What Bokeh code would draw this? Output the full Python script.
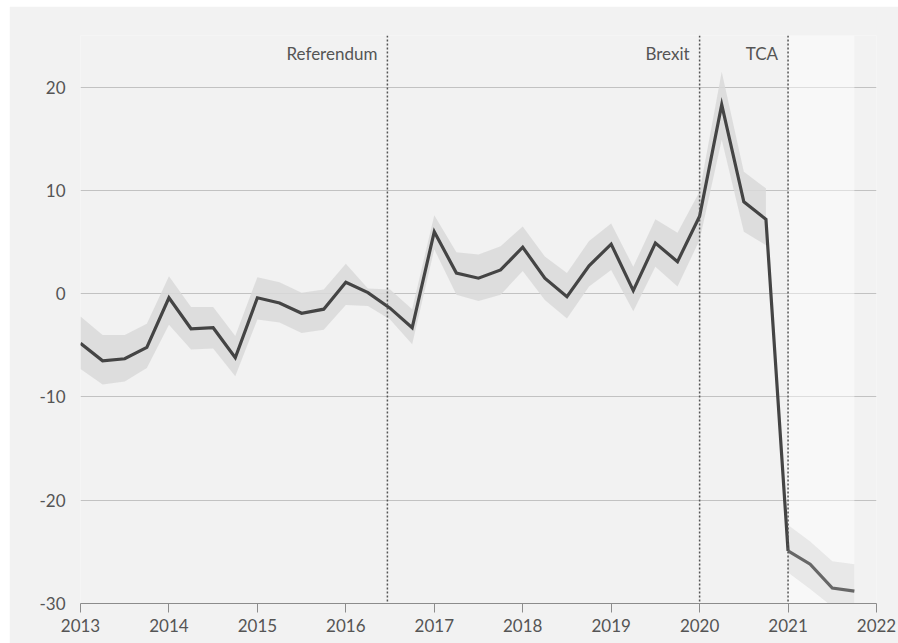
from bokeh.plotting import figure
from bokeh.models import FixedTicker, Span, BoxAnnotation, CustomJSTickFormatter
from bokeh.core.properties import value
from bokeh.embed import file_html
from bokeh.resources import INLINE

# ---- data ----
years = list(range(2013, 2022))
tick_years = list(range(2013, 2023))
y_ticks = [-30, -20, -10, 0, 10, 20]

# quarterly observation dates (Q1..Q4 of each year)
quarters = [y + q / 4 for y in years for q in range(4)]

central = [
    -4.8, -6.5, -6.3, -5.2,
    -0.4, -3.4, -3.3, -6.2,
    -0.4, -0.9, -1.9, -1.5,
    1.1, 0.1, -1.4, -3.3,
    6.0, 2.0, 1.5, 2.3,
    4.5, 1.5, -0.3, 2.7,
    4.8, 0.3, 4.9, 3.1,
    7.5, 18.3, 8.9, 7.2,
    -24.9, -26.2, -28.5, -28.8,
]
upper = [
    -2.2, -4.0, -4.0, -2.9,
    1.7, -1.3, -1.3, -4.1,
    1.6, 1.1, 0.1, 0.4,
    2.9, 0.5, 0.4, -1.5,
    7.6, 4.0, 3.8, 4.6,
    6.5, 3.6, 2.0, 5.1,
    6.8, 2.6, 7.2, 5.9,
    9.9, 21.5, 11.8, 10.2,
    -22.4, -24.0, -25.9, -26.2,
]
lower = [
    -7.3, -8.8, -8.5, -7.2,
    -3.0, -5.4, -5.3, -8.0,
    -2.5, -2.8, -3.8, -3.5,
    -1.1, -1.2, -2.5, -4.9,
    4.3, -0.1, -0.7, -0.1,
    2.2, -0.6, -2.4, 0.7,
    2.3, -1.7, 2.6, 0.7,
    5.2, 14.9, 6.0, 4.7,
    -27.0, -28.6, -30.3, -30.3,
]
n_hist = 32  # 2013Q1 .. 2020Q4 are outturns; 2021 is projection

event_x = [2016.47, 2020.0, 2021.0]
event_labels = ["Referendum", "Brexit", "TCA"]
forecast_start, forecast_end = 2021.0, 2021.75

# ---- styling ----
BG = "#f2f2f2"
FONT = "Lato"
TXT = "#555555"

p = figure(
    width=889, height=637,
    x_range=(2013, 2022), y_range=(-30, 25),
    output_backend="svg", toolbar_location=None,
    background_fill_color=BG, border_fill_color=BG,
    min_border_left=71, min_border_right=22,
    min_border_top=29, min_border_bottom=40,
)
p.margin = (6, 0, 0, 9)
p.outline_line_color = None

# forecast shading
p.add_layout(BoxAnnotation(left=forecast_start, right=forecast_end,
                           fill_color="white", fill_alpha=0.45,
                           line_color=None, level="underlay"))

# uncertainty bands
p.varea(x=quarters[:n_hist], y1=lower[:n_hist], y2=upper[:n_hist],
        fill_color="#d9d9d9", fill_alpha=0.85)
p.varea(x=quarters[n_hist:], y1=lower[n_hist:], y2=upper[n_hist:],
        fill_color="#e6e6e6", fill_alpha=0.9)

# event lines
for ex in event_x:
    p.add_layout(Span(location=ex, dimension="height", line_color="#555555",
                      line_width=1.5, line_dash="2 2"))

# central lines
p.line(quarters[:n_hist + 1], central[:n_hist + 1], line_color="#444444",
       line_width=3.2, line_join="miter")
p.line(quarters[n_hist:], central[n_hist:], line_color="#676767",
       line_width=3.2, line_join="miter")

# event labels
p.text(x=event_x, y=[23.3] * 3, text=event_labels, x_offset=-10,
       text_align="right", text_baseline="middle",
       text_font=value(FONT), text_font_size="17px", text_color=TXT)

# axes
xa = p.xaxis[0]
xa.ticker = FixedTicker(ticks=tick_years)
xa.formatter = CustomJSTickFormatter(code="return tick.toFixed(0);")
xa.axis_line_color = "#8c8c8c"
xa.major_tick_line_color = "#8c8c8c"
xa.major_tick_out = 9
xa.major_tick_in = 0
xa.minor_tick_line_color = None
xa.major_label_standoff = 6
xa.major_label_text_font = FONT
xa.major_label_text_font_size = "17px"
xa.major_label_text_color = TXT

ya = p.yaxis[0]
ya.ticker = FixedTicker(ticks=y_ticks)
ya.formatter = CustomJSTickFormatter(code="return tick.toFixed(0);")
ya.axis_line_color = None
ya.major_tick_line_color = None
ya.minor_tick_line_color = None
ya.major_tick_out = 0
ya.major_tick_in = 0
ya.major_label_standoff = 15
ya.major_label_text_font = FONT
ya.major_label_text_font_size = "17px"
ya.major_label_text_color = TXT

p.xgrid.grid_line_color = None
p.ygrid.ticker = FixedTicker(ticks=[-20, -10, 0, 10, 20])
p.ygrid.grid_line_color = "#c2c2c2"
p.ygrid.grid_line_width = 1

open("out.html", "w").write(file_html(p, INLINE))
